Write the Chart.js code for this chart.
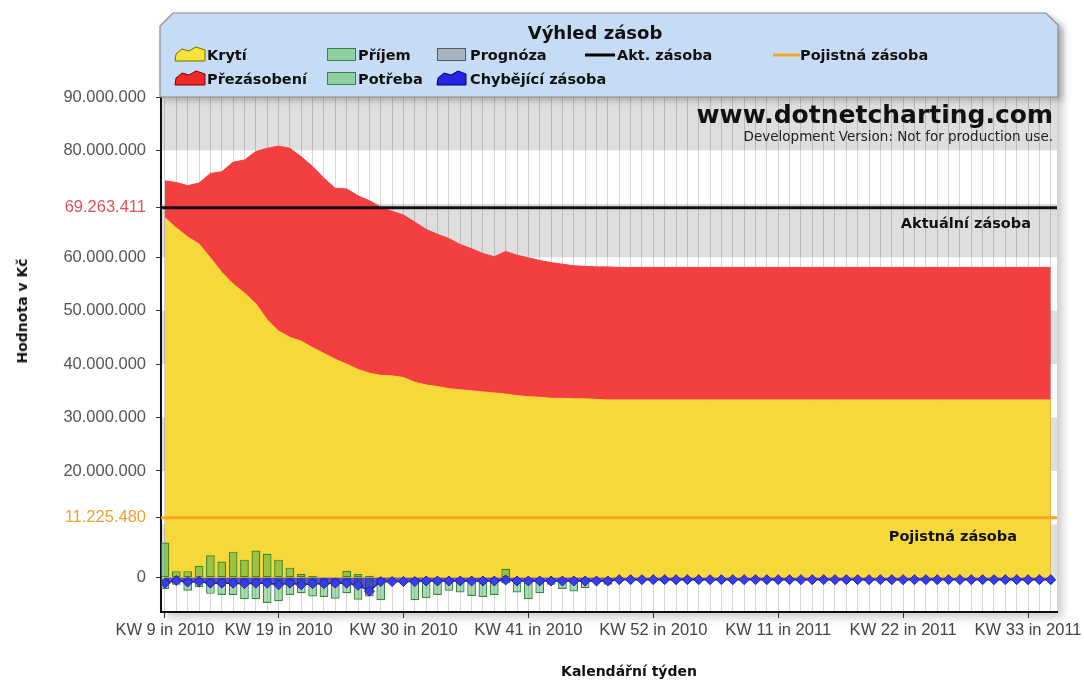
<!DOCTYPE html>
<html>
<head>
<meta charset="utf-8">
<script src="https://cdn.jsdelivr.net/npm/chart.js@4.4.0/dist/chart.umd.min.js"></script>
<style>
  html, body { margin: 0; padding: 0; background: #fff; }
  #wrap { position: relative; width: 1084px; height: 680px; overflow: hidden; font-family: 'DejaVu Sans', Verdana, sans-serif; }
  #shadow { position: absolute; left: 161px; top: 20px; width: 896px; height: 592px; background: #fff; box-shadow: 5px 5px 9px rgba(0,0,0,0.22); }
  #chart { position: absolute; left: 0; top: 0; }
  #head { position: absolute; left: 0; top: 0; filter: drop-shadow(4px 3px 3px rgba(0,0,0,0.22)); }
  .txt { position: absolute; white-space: nowrap; color: #111; }
  .lg { font-weight: bold; font-size: 14.5px; line-height: 18px; }
</style>
</head>
<body>
<div id="wrap">
  <div id="shadow"></div>
  <canvas id="chart" width="1084" height="680"></canvas>
  <svg id="head" width="1084" height="100">
    <polygon points="160,26 173,13 1046,13 1058,25 1058,97 160,97" fill="#c5dcf4" stroke="#8c8c8c" stroke-width="1.2"/>
    <polygon points="175,61 176,54 182,49 189,51 196,47 205,50 205,61" fill="#f6e33a" stroke="#7a6a00" stroke-width="1"/>
    <polygon points="175,85 176,78 182,73 189,75 196,71 205,74 205,85" fill="#f02828" stroke="#800000" stroke-width="1"/>
    <polygon points="437,85 438,78 444,73 451,75 458,71 466,74 466,85" fill="#2424e6" stroke="#000070" stroke-width="1"/>
    <rect x="327.5" y="48.5" width="28" height="12" fill="#8fd0a0" stroke="#3d7f55"/>
    <rect x="327.5" y="72.5" width="28" height="12" fill="#8fd0a0" stroke="#3d7f55"/>
    <rect x="437.5" y="48.5" width="28" height="12" fill="#a8b2c0" stroke="#4e5968"/>
    <line x1="585" y1="55" x2="615" y2="55" stroke="#000" stroke-width="3"/>
    <line x1="773" y1="55" x2="800" y2="55" stroke="#f5a623" stroke-width="3"/>
  </svg>
  <div class="txt" style="left:595px; top:22px; transform:translateX(-50%); font-weight:bold; font-size:18px; line-height:22px;">Výhled zásob</div>
  <div class="txt lg" style="left:207px; top:46px;">Krytí</div>
  <div class="txt lg" style="left:207px; top:70px;">Přezásobení</div>
  <div class="txt lg" style="left:358px; top:46px;">Příjem</div>
  <div class="txt lg" style="left:358px; top:70px;">Potřeba</div>
  <div class="txt lg" style="left:470px; top:46px;">Prognóza</div>
  <div class="txt lg" style="left:470px; top:70px;">Chybějící zásoba</div>
  <div class="txt lg" style="left:617px; top:46px;">Akt. zásoba</div>
  <div class="txt lg" style="left:800px; top:46px;">Pojistná zásoba</div>
  <div class="txt" style="right:31px; top:100px; font-weight:bold; font-size:25px; line-height:30px;">www.dotnetcharting.com</div>
  <div class="txt" style="right:31px; top:127px; font-size:13.5px; line-height:18px; color:#222;">Development Version: Not for production use.</div>
  <div class="txt" style="left:22px; top:311px; transform:translate(-50%,-50%) rotate(-90deg); font-weight:bold; font-size:14px;">Hodnota v Kč</div>
  <div class="txt" style="left:629px; top:671px; transform:translate(-50%,-50%); font-weight:bold; font-size:14px;">Kalendářní týden</div>
</div>
<script>
// kalendářní týdny KW 9/2010 .. KW 35/2011
const categories = [
    'KW 9 in 2010', 'KW 10 in 2010', 'KW 11 in 2010', 'KW 12 in 2010', 'KW 13 in 2010', 'KW 14 in 2010',
    'KW 15 in 2010', 'KW 16 in 2010', 'KW 17 in 2010', 'KW 18 in 2010', 'KW 19 in 2010', 'KW 20 in 2010',
    'KW 21 in 2010', 'KW 22 in 2010', 'KW 23 in 2010', 'KW 24 in 2010', 'KW 25 in 2010', 'KW 26 in 2010',
    'KW 27 in 2010', 'KW 28 in 2010', 'KW 29 in 2010', 'KW 30 in 2010', 'KW 31 in 2010', 'KW 32 in 2010',
    'KW 33 in 2010', 'KW 34 in 2010', 'KW 35 in 2010', 'KW 36 in 2010', 'KW 37 in 2010', 'KW 38 in 2010',
    'KW 39 in 2010', 'KW 40 in 2010', 'KW 41 in 2010', 'KW 42 in 2010', 'KW 43 in 2010', 'KW 44 in 2010',
    'KW 45 in 2010', 'KW 46 in 2010', 'KW 47 in 2010', 'KW 48 in 2010', 'KW 49 in 2010', 'KW 50 in 2010',
    'KW 51 in 2010', 'KW 52 in 2010', 'KW 1 in 2011', 'KW 2 in 2011', 'KW 3 in 2011', 'KW 4 in 2011',
    'KW 5 in 2011', 'KW 6 in 2011', 'KW 7 in 2011', 'KW 8 in 2011', 'KW 9 in 2011', 'KW 10 in 2011',
    'KW 11 in 2011', 'KW 12 in 2011', 'KW 13 in 2011', 'KW 14 in 2011', 'KW 15 in 2011', 'KW 16 in 2011',
    'KW 17 in 2011', 'KW 18 in 2011', 'KW 19 in 2011', 'KW 20 in 2011', 'KW 21 in 2011', 'KW 22 in 2011',
    'KW 23 in 2011', 'KW 24 in 2011', 'KW 25 in 2011', 'KW 26 in 2011', 'KW 27 in 2011', 'KW 28 in 2011',
    'KW 29 in 2011', 'KW 30 in 2011', 'KW 31 in 2011', 'KW 32 in 2011', 'KW 33 in 2011', 'KW 34 in 2011',
    'KW 35 in 2011'
];
const xTickLabels = ['KW 9 in 2010', 'KW 19 in 2010', 'KW 30 in 2010', 'KW 41 in 2010', 'KW 52 in 2010',
    'KW 11 in 2011', 'KW 22 in 2011', 'KW 33 in 2011'];

// hodnoty v mil. Kč
const kryti = [
    67.4, 65.5, 63.8, 62.5, 59.9, 57.2, 55.0, 53.3, 51.3, 48.3, 46.2, 45.0, 44.3, 43.1, 42.0, 40.9,
    40.0, 39.0, 38.3, 37.9, 37.8, 37.5, 36.6, 36.1, 35.8, 35.4, 35.2, 35.0, 34.8, 34.6, 34.4, 34.1,
    33.9, 33.8, 33.6, 33.6, 33.5, 33.5, 33.4, 33.3, 33.3, 33.3, 33.3, 33.3, 33.3, 33.3, 33.3, 33.3,
    33.3, 33.3, 33.3, 33.3, 33.3, 33.3, 33.3, 33.3, 33.3, 33.3, 33.3, 33.3, 33.3, 33.3, 33.3, 33.3,
    33.3, 33.3, 33.3, 33.3, 33.3, 33.3, 33.3, 33.3, 33.3, 33.3, 33.3, 33.3, 33.3, 33.3, 33.3
];
const prezasobeni = [
    74.3, 74.0, 73.4, 73.9, 75.7, 76.0, 77.8, 78.2, 79.8, 80.4, 80.8, 80.4, 78.8, 77.0, 74.8, 72.9,
    72.8, 71.5, 70.6, 69.4, 68.6, 67.9, 66.6, 65.2, 64.3, 63.5, 62.4, 61.6, 60.7, 60.1, 61.1, 60.4,
    59.9, 59.4, 59.0, 58.7, 58.4, 58.3, 58.2, 58.2, 58.1, 58.1, 58.1, 58.1, 58.1, 58.1, 58.1, 58.1,
    58.1, 58.1, 58.1, 58.1, 58.1, 58.1, 58.1, 58.1, 58.1, 58.1, 58.1, 58.1, 58.1, 58.1, 58.1, 58.1,
    58.1, 58.1, 58.1, 58.1, 58.1, 58.1, 58.1, 58.1, 58.1, 58.1, 58.1, 58.1, 58.1, 58.1, 58.1
];
const prijem = [
    6.6, 1.25, 1.25, 2.25, 4.2, 3.05, 4.9, 3.4, 5.1, 4.5, 3.4, 1.9, 0.7, 0.4, null, null,
    1.3, 0.7, 0.4, null, null, null, null, null, null, null, null, null, null, null, 1.7, null
];
const potreba = [
    -2.1, -1.3, -2.4, -1.75, -3.0, -3.2, -3.2, -4.0, -4.0, -4.7, -4.4, -3.2, -2.9, -3.5, -3.6, -3.9,
    -2.9, -4.1, -3.5, -4.2, null, null, -4.2, -3.8, -3.2, -2.4, -2.75, -3.4, -3.6, -3.2, -1.0, -2.75,
    -4.0, -2.9, -1.3, -2.1, -2.55, -1.9, null, -1.3
];
const chybejiciZasoba = [
    -1.0, -0.5, -0.8, -0.7, -1.0, -1.0, -1.0, -1.1, -1.0, -1.0, -1.3, -1.0, -1.3, -1.1, -1.1, -1.0,
    -1.0, -1.4, -2.5, -0.7, -0.7, -0.7, -0.7, -0.6, -0.6, -0.6, -0.6, -0.6, -0.6, -0.6, -0.4, -0.6,
    -0.6, -0.6, -0.6, -0.6, -0.6, -0.6, -0.6, -0.6, -0.35, -0.35, -0.35, -0.35, -0.35, -0.35, -0.35, -0.35,
    -0.35, -0.35, -0.35, -0.35, -0.35, -0.35, -0.35, -0.35, -0.35, -0.35, -0.35, -0.35, -0.35, -0.35, -0.35, -0.35,
    -0.35, -0.35, -0.35, -0.35, -0.35, -0.35, -0.35, -0.35, -0.35, -0.35, -0.35, -0.35, -0.35, -0.35, -0.35
];
const aktZasoba = 69263411;
const pojistnaZasoba = 11225480;
const yTickValues = [0, pojistnaZasoba, 20000000, 30000000, 40000000, 50000000, 60000000, aktZasoba, 80000000, 90000000];

const MIO = 1000000;
const toPoints = arr => arr.map((v, i) => (v === null ? null : { x: i, y: v * MIO })).filter(p => p !== null);
const fmt = v => Math.round(v).toString().replace(/\B(?=(\d{3})+(?!\d))/g, '.');

const FONT = 'Liberation Sans, Arial, sans-serif';

// střídavé pruhy pozadí po 10 mil.
const bandsPlugin = {
    id: 'bands',
    beforeDraw(chart) {
        const { ctx, chartArea: a, scales: { y } } = chart;
        ctx.save();
        ctx.fillStyle = '#ffffff';
        ctx.fillRect(a.left, a.top, a.right - a.left, a.bottom - a.top);
        ctx.fillStyle = '#dedede';
        for (let v = 0; v < y.max; v += 20 * MIO) {
            const top = y.getPixelForValue(Math.min(v + 10 * MIO, y.max));
            const bottom = y.getPixelForValue(v);
            ctx.fillRect(a.left, top, a.right - a.left, bottom - top);
        }
        ctx.restore();
    }
};

// Akt. zásoba + Pojistná zásoba
const refLines = [
    { value: aktZasoba, color: '#111111', label: 'Aktuální zásoba', dx: 26, dy: 16 },
    { value: pojistnaZasoba, color: '#f5a623', label: 'Pojistná zásoba', dx: 40, dy: 19 }
];
const refLinesPlugin = {
    id: 'refLines',
    afterDatasetsDraw(chart) {
        const { ctx, chartArea: a, scales: { y } } = chart;
        ctx.save();
        refLines.forEach(r => {
            const py = y.getPixelForValue(r.value);
            ctx.strokeStyle = r.color;
            ctx.lineWidth = 3;
            ctx.beginPath();
            ctx.moveTo(a.left, py);
            ctx.lineTo(a.right, py);
            ctx.stroke();
            ctx.fillStyle = '#111';
            ctx.font = 'bold 14.5px "DejaVu Sans"';
            ctx.textAlign = 'right';
            ctx.textBaseline = 'middle';
            ctx.fillText(r.label, a.right - r.dx, py + r.dy);
        });
        ctx.restore();
    }
};

new Chart(document.getElementById('chart'), {
    type: 'line',
    data: {
        datasets: [
            {
                type: 'line',
                label: 'Chybějící zásoba',
                data: toPoints(chybejiciZasoba),
                order: 0,
                borderColor: '#1c2d8c',
                borderWidth: 1.5,
                backgroundColor: 'rgba(30, 30, 190, 0.75)',
                fill: 'origin',
                pointStyle: 'rectRot',
                pointRadius: 5,
                pointBackgroundColor: '#3a3aee',
                pointBorderColor: '#22229a',
                pointBorderWidth: 1
            },
            {
                type: 'bar',
                label: 'Příjem',
                data: toPoints(prijem),
                order: 1,
                grouped: false,
                backgroundColor: 'rgba(45, 169, 70, 0.45)',
                borderColor: 'rgba(40, 120, 40, 0.9)',
                borderWidth: 1.2,
                borderSkipped: false,
                categoryPercentage: 0.9,
                barPercentage: 0.85
            },
            {
                type: 'bar',
                label: 'Potřeba',
                data: toPoints(potreba),
                order: 2,
                grouped: false,
                backgroundColor: 'rgba(45, 169, 70, 0.42)',
                borderColor: 'rgba(40, 120, 40, 0.9)',
                borderWidth: 1.2,
                borderSkipped: false,
                categoryPercentage: 0.9,
                barPercentage: 0.85
            },
            {
                type: 'line',
                label: 'Krytí',
                data: toPoints(kryti),
                order: 3,
                borderColor: '#f6d83b',
                borderWidth: 1,
                backgroundColor: '#f6d83b',
                fill: 'origin',
                pointRadius: 0,
                tension: 0
            },
            {
                type: 'line',
                label: 'Přezásobení',
                data: toPoints(prezasobeni),
                order: 4,
                borderColor: '#f33f3f',
                borderWidth: 1,
                backgroundColor: '#f33f3f',
                fill: 'origin',
                pointRadius: 0,
                tension: 0
            }
        ]
    },
    options: {
        responsive: false,
        animation: false,
        devicePixelRatio: 1,
        layout: { padding: { top: 97, right: 27, left: 0, bottom: 0 } },
        plugins: {
            legend: { display: false },
            tooltip: { enabled: false }
        },
        scales: {
            x: {
                type: 'linear',
                min: -0.35,
                max: 78.55,
                offset: false,
                z: 1,
                afterBuildTicks: scale => {
                    scale.ticks = categories.map((c, i) => ({ value: i }));
                },
                afterFit: scale => { scale.height = 68; },
                ticks: {
                    autoSkip: false,
                    maxRotation: 0,
                    minRotation: 0,
                    padding: 3,
                    color: '#444',
                    font: { family: FONT, size: 16.5 },
                    callback: v => (xTickLabels.includes(categories[v]) ? categories[v] : '')
                },
                grid: {
                    offset: false,
                    color: 'rgba(0, 0, 0, 0.16)',
                    lineWidth: 1,
                    tickLength: 6,
                    tickColor: ctx => (ctx.tick && xTickLabels.includes(categories[ctx.tick.value]) ? '#333' : 'rgba(0,0,0,0)')
                },
                border: { display: true, color: '#111', width: 2 }
            },
            y: {
                min: -6.4 * MIO,
                max: 90 * MIO,
                afterBuildTicks: scale => {
                    scale.ticks = yTickValues.map(v => ({ value: v }));
                },
                afterFit: scale => { scale.width = 161; },
                ticks: {
                    padding: 10,
                    font: { family: FONT, size: 16.5 },
                    color: ctx => (ctx.tick.value === aktZasoba ? '#e0505a' : ctx.tick.value === pojistnaZasoba ? '#f0a030' : '#555'),
                    callback: v => fmt(v)
                },
                grid: {
                    drawOnChartArea: false,
                    tickLength: 5,
                    tickColor: '#333'
                },
                border: { display: true, color: '#111', width: 2 }
            }
        }
    },
    plugins: [bandsPlugin, refLinesPlugin]
});
</script>
</body>
</html>
